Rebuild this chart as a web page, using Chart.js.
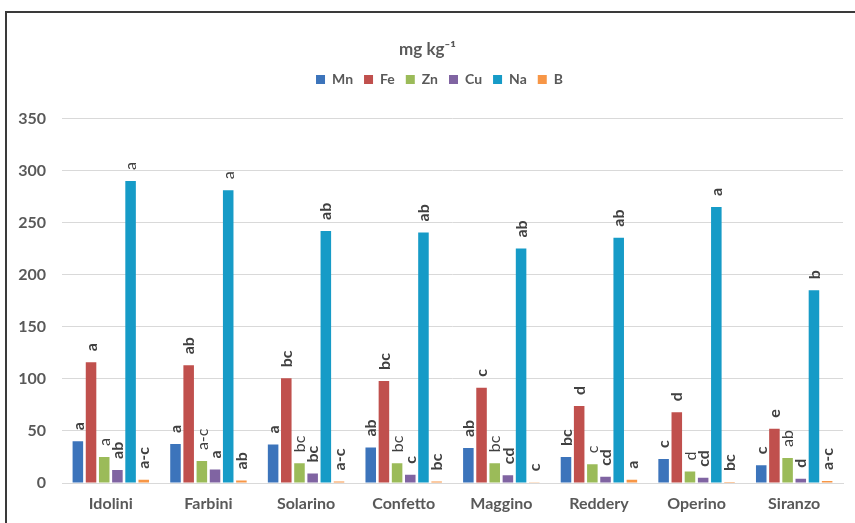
<!DOCTYPE html>
<html>
<head>
<meta charset="utf-8">
<script src="https://cdn.jsdelivr.net/npm/chart.js@4/dist/chart.umd.min.js"></script>
<style>
  html, body { margin: 0; padding: 0; background: #ffffff; }
  #wrap { position: relative; width: 855px; height: 523px; }
</style>
</head>
<body>
<div id="wrap"><canvas id="chart" width="855" height="523"></canvas></div>
<script>
// Cultivars
const categories = ['Idolini', 'Farbini', 'Solarino', 'Confetto', 'Maggino', 'Reddery', 'Operino', 'Siranzo'];

// Micronutrient and sodium contents (mg kg-1)
const mn = [40, 37.5, 37, 34, 33.5, 25, 23, 17];
const fe = [116, 113, 100.5, 98, 91.5, 74, 68, 52];
const zn = [25, 21, 19, 19, 19, 18, 11, 24];
const cu = [12.5, 13, 9, 8, 7.5, 6, 5, 4];
const na = [290, 281, 242, 240.5, 225, 235.5, 265, 185];
const b  = [3, 2.5, 1.5, 1.5, 0.8, 3, 1, 2];

// Mean separation letters
const mnLetters = ['a', 'a', 'a', 'ab', 'ab', 'bc', 'c', 'c'];
const feLetters = ['a', 'ab', 'bc', 'bc', 'c', 'd', 'd', 'e'];
const znLetters = ['a', 'a-c', 'bc', 'bc', 'bc', 'c', 'd', 'ab'];
const cuLetters = ['ab', 'a', 'bc', 'c', 'cd', 'cd', 'cd', 'd'];
const naLetters = ['a', 'a', 'ab', 'ab', 'ab', 'ab', 'a', 'b'];
const bLetters  = ['a-c', 'ab', 'a-c', 'bc', 'c', 'a', 'bc', 'a-c'];

// Y axis ticks
const yTicks = [0, 50, 100, 150, 200, 250, 300, 350];

const FONT = 'Lato, "Open Sans", "DejaVu Sans", sans-serif';
const TEXT = '#595959';

function series(label, data, letters, color, labelWeight) {
  return { label, data, letters, labelWeight, backgroundColor: color, borderWidth: 0,
           barPercentage: 0.8, categoryPercentage: 0.81 };
}

// Frame around the chart
const framePlugin = {
  id: 'frame',
  beforeDraw(chart) {
    const ctx = chart.ctx;
    ctx.save();
    ctx.fillStyle = '#ffffff';
    ctx.fillRect(0, 0, chart.width, chart.height);
    ctx.strokeStyle = '#3a3a3a';
    ctx.lineWidth = 2;
    ctx.beginPath();
    ctx.moveTo(6, chart.height + 2);
    ctx.lineTo(6, 12);
    ctx.lineTo(chart.width + 2, 12);
    ctx.stroke();
    ctx.restore();
  }
};

// Extra room between the legend and the plot area; legend sits a little right of centre
const legendGapPlugin = {
  id: 'legendGap',
  beforeInit(chart) {
    const fit = chart.legend.fit;
    chart.legend.fit = function () {
      fit.call(this);
      this.height += 22;
    };
  },
  afterLayout(chart) {
    chart.legend.left += 12;
    chart.legend.right += 12;
  }
};

// Rotated letters above each bar
const letterPlugin = {
  id: 'letters',
  afterDatasetsDraw(chart) {
    const ctx = chart.ctx;
    chart.data.datasets.forEach((ds, i) => {
      const meta = chart.getDatasetMeta(i);
      meta.data.forEach((bar, j) => {
        const txt = ds.letters[j];
        ctx.save();
        ctx.translate(bar.x + 0.5, bar.y - 11);
        ctx.rotate(-Math.PI / 2);
        ctx.font = ds.labelWeight(j) + ' 16px ' + FONT;
        ctx.fillStyle = '#404040';
        ctx.textAlign = 'left';
        ctx.textBaseline = 'middle';
        ctx.fillText(txt, 0, 0);
        ctx.restore();
      });
    });
  }
};

const bold = () => 'bold';
const normal = () => 'normal';
const naWeight = (j) => (j < 2 ? 'normal' : 'bold');

new Chart(document.getElementById('chart'), {
  type: 'bar',
  data: {
    labels: categories,
    datasets: [
      series('Mn', mn, mnLetters, '#3C74BB', bold),
      series('Fe', fe, feLetters, '#C0504D', bold),
      series('Zn', zn, znLetters, '#9BBB59', normal),
      series('Cu', cu, cuLetters, '#8064A2', bold),
      series('Na', na, naLetters, '#169BC7', naWeight),
      series('B', b, bLetters, '#F79646', bold)
    ]
  },
  options: {
    responsive: false,
    animation: false,
    devicePixelRatio: 1,
    layout: { padding: { left: 12, right: 12, top: 39, bottom: 0 } },
    plugins: {
      title: {
        display: true,
        text: 'mg kg\u207B\u00B9',
        color: TEXT,
        font: { family: FONT, size: 17, weight: 'bold' },
        padding: { top: 0, bottom: 2 }
      },
      legend: {
        display: true,
        position: 'top',
        labels: {
          color: TEXT,
          font: { family: FONT, size: 14, weight: 'bold' },
          boxWidth: 9,
          boxHeight: 9,
          padding: 11
        }
      },
      tooltip: { enabled: false }
    },
    scales: {
      x: {
        afterFit(scale) { scale.height = 40; },
        grid: { display: false, drawTicks: false },
        border: { display: true, color: '#d9d9d9', width: 1 },
        ticks: { color: TEXT, font: { family: FONT, size: 16, weight: 'bold' }, padding: 11 }
      },
      y: {
        min: 0,
        max: 350,
        afterFit(scale) { scale.width = 50; },
        afterBuildTicks(scale) { scale.ticks = yTicks.map(v => ({ value: v })); },
        grid: { color: '#d9d9d9', drawTicks: false },
        border: { display: false },
        ticks: { color: TEXT, font: { family: FONT, size: 16, weight: 'bold' }, padding: 16 }
      }
    }
  },
  plugins: [framePlugin, legendGapPlugin, letterPlugin]
});
</script>
</body>
</html>
